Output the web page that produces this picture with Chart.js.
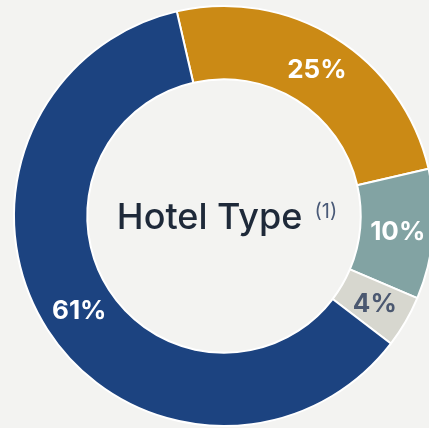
<!DOCTYPE html>
<html>
<head>
<meta charset="utf-8">
<script src="https://cdn.jsdelivr.net/npm/chart.js@4.4.0/dist/chart.umd.min.js"></script>
<style>
  html, body { margin: 0; padding: 0; background: #f3f3f1; overflow: hidden; width: 429px; height: 428px; }
  #wrap { position: absolute; left: 0; top: 0; width: 448px; height: 432px; }
</style>
</head>
<body>
<div id="wrap"><canvas id="c"></canvas></div>
<script>
const categories = ["Category A", "Category B", "Category C", "Category D"];
const values = [25, 10, 4, 61];
const labelTexts = ["25%", "10%", "4%", "61%"];
const colors = ["#cb8a15", "#82a3a3", "#d7d7cf", "#1c4380"];
const labelColors = ["#ffffff", "#ffffff", "#4b5870", "#ffffff"];
const centerTitle = "Hotel Type";
const centerNote = "(1)";

const labelPlugin = {
  id: 'labels',
  afterDatasetsDraw(chart) {
    const ctx = chart.ctx;
    const meta = chart.getDatasetMeta(0);
    ctx.save();
    ctx.textAlign = 'center';
    ctx.textBaseline = 'middle';
    ctx.font = '700 26px Inter';
    meta.data.forEach((arc, i) => {
      const p = arc.tooltipPosition();
      ctx.fillStyle = labelColors[i];
      ctx.fillText(labelTexts[i], p.x + 1, p.y + 1);
    });
    // center text
    const cx = meta.data[0].x, cy = meta.data[0].y;
    ctx.textBaseline = 'alphabetic';
    ctx.textAlign = 'left';
    ctx.font = '500 36px Inter';
    const w1 = ctx.measureText(centerTitle).width;
    ctx.font = '400 20px Inter';
    const gap = 12;
    const w2 = ctx.measureText(centerNote).width;
    const start = cx + 3 - (w1 + gap + w2) / 2;
    ctx.font = '500 36px Inter';
    ctx.fillStyle = '#1e2939';
    ctx.fillText(centerTitle, start, cy + 13);
    ctx.font = '400 20px Inter';
    ctx.fillStyle = '#4a5a78';
    ctx.fillText(centerNote, start + w1 + gap, cy + 2);
    ctx.restore();
  }
};

new Chart(document.getElementById('c'), {
  type: 'doughnut',
  data: {
    labels: categories,
    datasets: [{
      data: values,
      backgroundColor: colors,
      borderColor: '#ffffff',
      borderWidth: 2,
      hoverOffset: 0
    }]
  },
  options: {
    responsive: true,
    maintainAspectRatio: false,
    animation: false,
    rotation: -13,
    radius: 210,
    cutout: 140,
    layout: { padding: 0 },
    plugins: { legend: { display: false }, tooltip: { enabled: false } },
    events: []
  },
  plugins: [labelPlugin]
});
</script>
</body>
</html>
